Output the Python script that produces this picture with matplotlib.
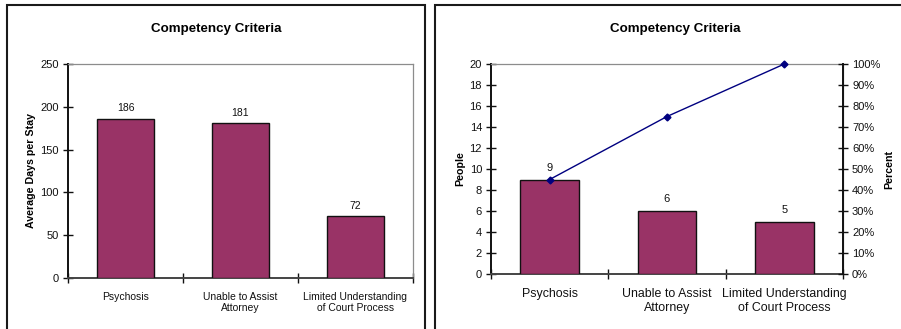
import matplotlib
matplotlib.use("Agg")
import matplotlib.pyplot as plt
from matplotlib.patches import Rectangle
from matplotlib.ticker import FuncFormatter, MultipleLocator

plt.rcParams['font.family'] = ['Liberation Sans', 'DejaVu Sans']

# Data
categories = ["Psychosis", "Unable to Assist\nAttorney", "Limited Understanding\nof Court Process"]
avg_days = [186, 181, 72]
people = [9, 6, 5]
cum_percent = [0.45, 0.75, 1.00]
chart_title = "Competency Criteria"

BAR_COLOR = "#993366"
LINE_COLOR = "#000080"

W, H = 901, 329
fig = plt.figure(figsize=(W / 100, H / 100), dpi=100)
fig.patch.set_facecolor("white")


def px_box(left, top, right, bottom):
    return [left / W, 1 - bottom / H, (right - left) / W, (bottom - top) / H]


# Panel frames
for (l, t, r, b) in [(7, 5, 425, 340), (435, 5, 915, 340)]:
    fig.add_artist(Rectangle((l / W, 1 - b / H), (r - l) / W, (b - t) / H,
                             transform=fig.transFigure, fill=False,
                             edgecolor="#1a1a1a", linewidth=1.5, clip_on=False))


def style_axes(ax, ytick_size, xtick_size):
    ax.set_facecolor("white")
    ax.spines["top"].set_color("#8c8c8c")
    ax.spines["right"].set_color("#8c8c8c")
    ax.spines["top"].set_linewidth(0.9)
    ax.spines["right"].set_linewidth(0.9)
    ax.spines["left"].set_color("#111111")
    ax.spines["left"].set_linewidth(1.4)
    ax.spines["bottom"].set_color("#444444")
    ax.spines["bottom"].set_linewidth(1.4)
    ax.set_xlim(-0.5, len(categories) - 0.5)
    ax.set_xticks(range(len(categories)))
    ax.set_xticklabels(categories, fontsize=xtick_size, color="#111111")
    ax.tick_params(axis="x", which="major", length=0, pad=10)
    ax.set_xticks([i - 0.5 for i in range(len(categories) + 1)], minor=True)
    ax.tick_params(axis="x", which="minor", direction="inout", length=7,
                   width=1.0, color="#111111")
    ax.tick_params(axis="y", direction="inout", length=7, width=1.0,
                   color="#111111", labelsize=ytick_size, labelcolor="#111111", pad=3)


# Left chart: average days per stay
ax1 = fig.add_axes(px_box(68, 64, 413, 278))
bars1 = ax1.bar(range(len(categories)), avg_days, width=0.5, color=BAR_COLOR,
                edgecolor="#111111", linewidth=1.0, zorder=3)
ax1.set_ylim(0, 250)
ax1.yaxis.set_major_locator(MultipleLocator(50))
style_axes(ax1, 8, 7.5)
ax1.bar_label(bars1, labels=[str(v) for v in avg_days], padding=4,
              fontsize=7.5, color="#111111")
ax1.set_ylabel("Average Days per Stay", fontsize=7.7, fontweight="bold", labelpad=3)
fig.text(216 / W, 1 - 29 / H, chart_title, ha="center", va="center",
         fontsize=9.6, fontweight="bold")

# Right chart: people with cumulative percent
ax2 = fig.add_axes(px_box(491, 64, 843, 274))
bars2 = ax2.bar(range(len(categories)), people, width=0.5, color=BAR_COLOR,
                edgecolor="#111111", linewidth=1.0, zorder=3)
ax2.set_ylim(0, 20)
ax2.yaxis.set_major_locator(MultipleLocator(2))
style_axes(ax2, 8, 8.9)
ax2.bar_label(bars2, labels=[str(v) for v in people], padding=5,
              fontsize=8, color="#111111")
ax2.set_ylabel("People", fontsize=7.7, fontweight="bold", labelpad=3)

ax3 = ax2.twinx()
ax3.set_ylim(0, 1)
ax3.yaxis.set_major_locator(MultipleLocator(0.1))
ax3.yaxis.set_major_formatter(FuncFormatter(lambda v, _: f"{v * 100:.0f}%"))
ax3.tick_params(axis="y", direction="inout", length=7, width=1.0,
                color="#111111", labelsize=8, labelcolor="#111111", pad=3)
ax3.spines["right"].set_color("#111111")
ax3.spines["right"].set_linewidth(1.4)
ax3.spines["top"].set_visible(False)
ax3.spines["left"].set_visible(False)
ax3.spines["bottom"].set_visible(False)
ax3.plot(range(len(categories)), cum_percent, color=LINE_COLOR, linewidth=1.0,
         marker="D", markersize=3.5, markerfacecolor=LINE_COLOR,
         markeredgecolor=LINE_COLOR, zorder=5, clip_on=False)
ax3.set_ylabel("Percent", fontsize=7.7, fontweight="bold", labelpad=3)
fig.text(675 / W, 1 - 29 / H, chart_title, ha="center", va="center",
         fontsize=9.6, fontweight="bold")

fig.savefig("out.png", dpi=100, facecolor="white")
